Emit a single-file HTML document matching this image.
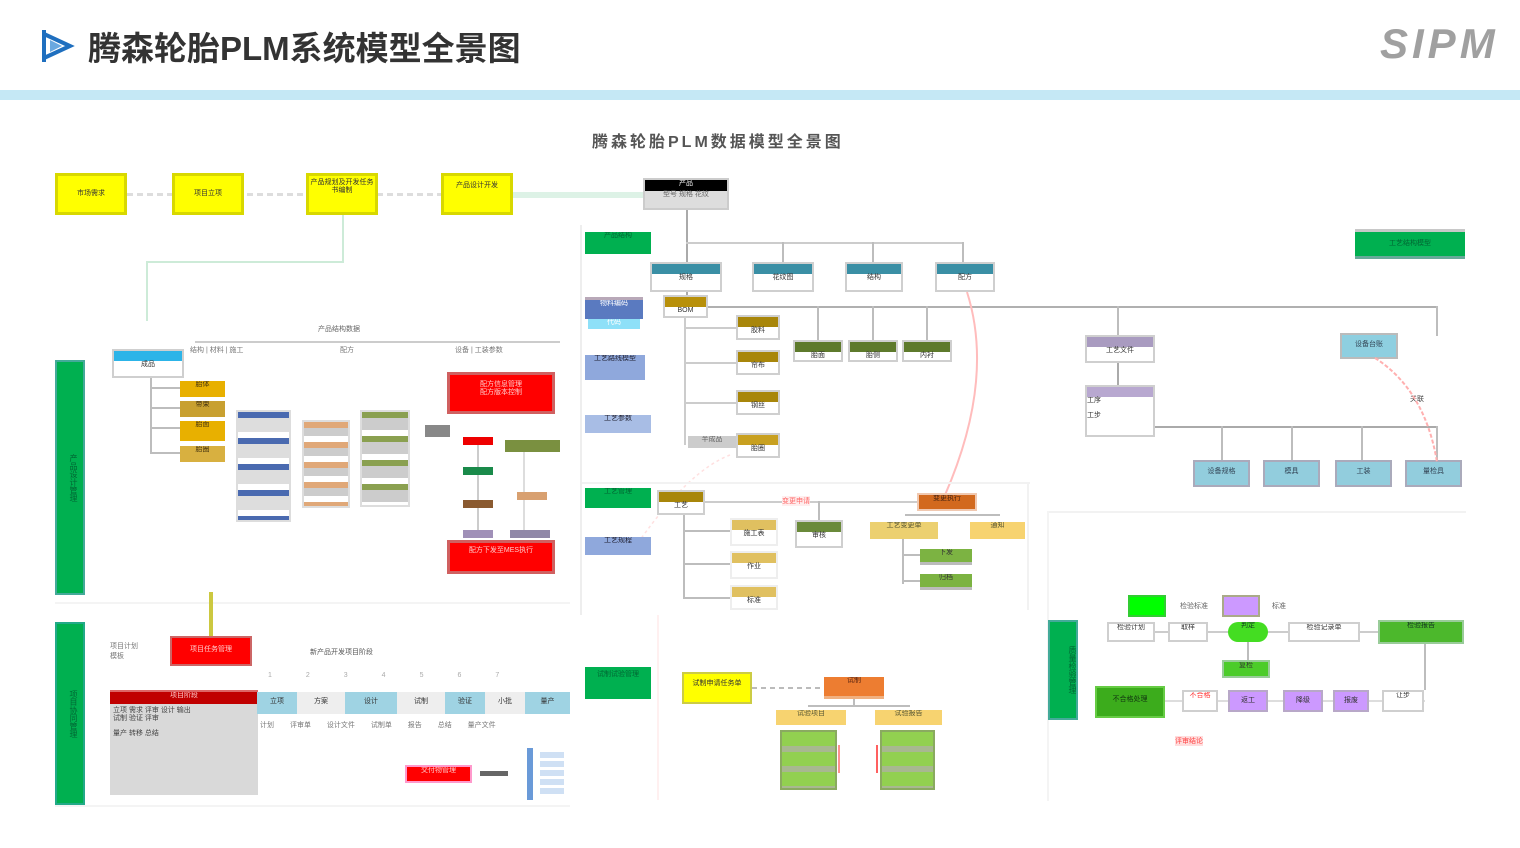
<!DOCTYPE html>
<html><head><meta charset="utf-8"><style>
body{margin:0;width:1520px;height:848px;background:#fff;position:relative;overflow:hidden;font-family:"Liberation Sans","Noto Sans CJK SC",sans-serif}
.b{position:absolute;box-sizing:border-box;font-size:7px;line-height:1.1;text-align:center;overflow:hidden;color:#333}
.h{position:absolute;height:2px;background:#bdbdbd}
.v{position:absolute;width:2px;background:#bdbdbd}
.t{position:absolute;font-size:7px;color:#777;white-space:nowrap}
.w{background:#fff;border:2px solid #cfcfcf}
.hd{display:block;height:10px}
</style></head><body>
<!-- header -->
<svg style="position:absolute;left:40px;top:28px" width="36" height="38"><path d="M4 2 L4 34 M4 6 L30 18 L4 30" stroke="#1f6fbf" stroke-width="4" fill="none"/><path d="M10 12 L22 18 L10 24Z" fill="#6aa8e0"/></svg>
<div style="position:absolute;left:88px;top:22px;font-size:33px;font-weight:bold;color:#333;letter-spacing:0px">腾森轮胎PLM系统模型全景图</div>
<div style="position:absolute;left:1380px;top:20px;font-size:42px;font-weight:bold;font-style:italic;color:#a0a0a0;letter-spacing:4px">SIPM</div>
<div style="position:absolute;left:0;top:90px;width:1520px;height:10px;background:#c5e8f5"></div>
<div style="position:absolute;left:592px;top:128px;font-size:16px;font-weight:bold;color:#555;letter-spacing:3px">腾森轮胎PLM数据模型全景图</div>

<!-- top yellow chain -->
<div class="h" style="left:127px;top:193px;width:516px;height:3px;background:repeating-linear-gradient(90deg,#ddd 0 6px,transparent 6px 10px)"></div>
<div class="h" style="left:513px;top:192px;width:132px;height:6px;background:#ddf2e6"></div>
<div class="b" style="left:55px;top:173px;width:72px;height:42px;background:#ff0;border:3px solid #d8d800;padding-top:14px">市场需求</div>
<div class="b" style="left:172px;top:173px;width:72px;height:42px;background:#ff0;border:3px solid #d8d800;padding-top:14px">项目立项</div>
<div class="b" style="left:306px;top:173px;width:72px;height:42px;background:#ff0;border:3px solid #d8d800;padding-top:3px">产品规划及开发任务书编制</div>
<div class="b" style="left:441px;top:173px;width:72px;height:42px;background:#ff0;border:3px solid #d8d800;padding-top:6px">产品设计开发</div>
<div class="v" style="left:342px;top:215px;height:47px;background:#cdebd8"></div>
<div class="h" style="left:147px;top:261px;width:197px;background:#cdebd8"></div>
<div class="v" style="left:146px;top:261px;height:60px;background:#cdebd8"></div>
<div class="b" style="left:643px;top:178px;width:86px;height:32px;background:#ddd;border:2px solid #ccc"><div style="background:#000;height:11px;color:#fff">产品</div><div style="color:#666">型号 规格 花纹</div></div>

<!-- upper middle -->
<div class="b" style="left:585px;top:232px;width:66px;height:22px;background:#00b050;color:#063">产品结构</div>
<div class="b" style="left:1355px;top:229px;width:110px;height:30px;background:#00b050;color:#063;border-top:3px solid #c8c8c8;border-bottom:3px solid #6a9;padding-top:8px">工艺结构模型</div>
<div class="v" style="left:686px;top:210px;height:90px;background:#aaa"></div>
<div class="h" style="left:686px;top:242px;width:278px;background:#ccc"></div>
<div class="v" style="left:782px;top:242px;height:20px"></div>
<div class="v" style="left:872px;top:242px;height:20px"></div>
<div class="v" style="left:962px;top:242px;height:20px"></div>
<div class="b w" style="left:650px;top:262px;width:72px;height:30px"><span class="hd" style="background:#3a8fa5"></span>规格</div>
<div class="b w" style="left:752px;top:262px;width:62px;height:30px"><span class="hd" style="background:#3a8fa5"></span>花纹图</div>
<div class="b w" style="left:845px;top:262px;width:58px;height:30px"><span class="hd" style="background:#3a8fa5"></span>结构</div>
<div class="b w" style="left:935px;top:262px;width:60px;height:30px"><span class="hd" style="background:#3a8fa5"></span>配方</div>
<div class="b w" style="left:663px;top:295px;width:45px;height:23px"><span class="hd" style="background:#b8900a"></span>BOM</div>
<div class="h" style="left:708px;top:306px;width:730px;background:#b0b0b0"></div>
<div class="v" style="left:817px;top:306px;height:34px"></div>
<div class="v" style="left:872px;top:306px;height:34px"></div>
<div class="v" style="left:926px;top:306px;height:34px"></div>
<div class="v" style="left:1117px;top:306px;height:30px"></div>
<div class="v" style="left:1436px;top:306px;height:30px"></div>
<div class="b w" style="left:793px;top:340px;width:50px;height:22px"><span class="hd" style="background:#5e7a2c"></span>胎面</div>
<div class="b w" style="left:848px;top:340px;width:50px;height:22px"><span class="hd" style="background:#5e7a2c"></span>胎侧</div>
<div class="b w" style="left:902px;top:340px;width:50px;height:22px"><span class="hd" style="background:#5e7a2c"></span>内衬</div>
<div class="v" style="left:684px;top:318px;height:127px;background:#ccc"></div>
<div class="h" style="left:684px;top:327px;width:52px;background:#ccc"></div>
<div class="h" style="left:684px;top:362px;width:52px;background:#ccc"></div>
<div class="h" style="left:684px;top:402px;width:52px;background:#ccc"></div>
<div class="b" style="left:688px;top:436px;width:48px;height:12px;background:#ccc;color:#666">半成品</div>
<div class="b w" style="left:736px;top:315px;width:44px;height:25px"><span class="hd" style="background:#a8860a"></span>胶料</div>
<div class="b w" style="left:736px;top:350px;width:44px;height:25px"><span class="hd" style="background:#a8860a"></span>帘布</div>
<div class="b w" style="left:736px;top:390px;width:44px;height:25px"><span class="hd" style="background:#a8860a"></span>钢丝</div>
<div class="b w" style="left:736px;top:433px;width:44px;height:25px"><span class="hd" style="background:#c8a020"></span>胎圈</div>
<div class="b" style="left:585px;top:297px;width:58px;height:22px;background:#5a7ac0;color:#fff;border-top:3px solid #b8a8b8">物料编码</div>
<div class="b" style="left:588px;top:319px;width:52px;height:10px;background:#8ee0f8;color:#fff">代码</div>
<div class="b" style="left:585px;top:355px;width:60px;height:25px;background:#8fa8dc;color:#223">工艺路线模型</div>
<div class="b" style="left:585px;top:415px;width:66px;height:18px;background:#a8bde5;color:#223">工艺参数</div>
<div class="b w" style="left:1085px;top:335px;width:70px;height:28px"><span class="hd" style="background:#a99bc0"></span>工艺文件</div>
<div class="v" style="left:1117px;top:363px;height:22px;background:#aaa"></div>
<div class="b w" style="left:1085px;top:385px;width:70px;height:52px;text-align:left"><span class="hd" style="background:#b8a8d0"></span>工序<br><br>工步</div>
<div class="h" style="left:1155px;top:426px;width:282px;background:#aaa"></div>
<div class="v" style="left:1221px;top:426px;height:36px"></div>
<div class="v" style="left:1291px;top:426px;height:36px"></div>
<div class="v" style="left:1361px;top:426px;height:36px"></div>
<div class="v" style="left:1436px;top:426px;height:36px"></div>
<div class="b" style="left:1340px;top:333px;width:58px;height:26px;background:#8ecfe0;border:2px solid #bbb;padding-top:6px;color:#345">设备台账</div>
<div class="b" style="left:1193px;top:460px;width:57px;height:27px;background:#92cddd;border:2px solid #aab;padding-top:6px;color:#345">设备规格</div>
<div class="b" style="left:1263px;top:460px;width:57px;height:27px;background:#92cddd;border:2px solid #aab;padding-top:6px;color:#345">模具</div>
<div class="b" style="left:1335px;top:460px;width:57px;height:27px;background:#92cddd;border:2px solid #aab;padding-top:6px;color:#345">工装</div>
<div class="b" style="left:1405px;top:460px;width:57px;height:27px;background:#92cddd;border:2px solid #aab;padding-top:6px;color:#345">量检具</div>
<div class="t" style="left:1410px;top:394px;color:#444">关联</div>
<svg style="position:absolute;left:0;top:0" width="1520" height="848">
<path d="M1375 358 Q1425 390 1437 462" stroke="#ffb0b0" stroke-width="2" fill="none" stroke-dasharray="4 2"/>
<path d="M967 292 Q995 380 945 495" stroke="#ffbcbc" stroke-width="2" fill="none"/>
<path d="M730 455 Q690 470 640 540" stroke="#ffe0e0" stroke-width="1.5" fill="none" stroke-dasharray="3 3"/>
</svg>

<!-- mid section -->
<div class="h" style="left:580px;top:482px;width:450px;background:#f2f2f2"></div>
<div class="v" style="left:1027px;top:482px;height:128px;background:#f2f2f2"></div>
<div class="v" style="left:580px;top:225px;height:390px;background:#eee"></div>
<div class="b" style="left:585px;top:488px;width:66px;height:20px;background:#00b050;color:#063">工艺管理</div>
<div class="b" style="left:585px;top:537px;width:66px;height:18px;background:#8fa8dc;color:#223">工艺规程</div>
<div class="b w" style="left:657px;top:490px;width:48px;height:25px"><span class="hd" style="background:#a8860a"></span>工艺</div>
<div class="h" style="left:705px;top:501px;width:212px;background:#ccc"></div>
<div class="t" style="left:782px;top:496px;color:#f66;background:#fee">变更申请</div>
<div class="v" style="left:683px;top:515px;height:82px"></div>
<div class="h" style="left:683px;top:530px;width:47px"></div>
<div class="h" style="left:683px;top:563px;width:47px"></div>
<div class="h" style="left:683px;top:597px;width:47px"></div>
<div class="b w" style="left:730px;top:518px;width:48px;height:28px;border-color:#eee"><span class="hd" style="background:#e0c060"></span>施工表</div>
<div class="b w" style="left:730px;top:551px;width:48px;height:28px;border-color:#eee"><span class="hd" style="background:#e0c060"></span>作业</div>
<div class="b w" style="left:730px;top:585px;width:48px;height:25px;border-color:#eee"><span class="hd" style="background:#e0c060"></span>标准</div>
<div class="v" style="left:818px;top:501px;height:20px"></div>
<div class="b w" style="left:795px;top:520px;width:48px;height:28px"><span class="hd" style="background:#6a8a3a"></span>审核</div>
<div class="b" style="left:917px;top:493px;width:60px;height:18px;background:#d2691e;border:2px solid #f0c8b0;color:#421">变更执行</div>
<div class="h" style="left:905px;top:514px;width:95px"></div>
<div class="b" style="left:870px;top:522px;width:68px;height:17px;background:#ecd070;color:#553">工艺变更单</div>
<div class="b" style="left:970px;top:522px;width:55px;height:17px;background:#f7d370;color:#553">通知</div>
<div class="v" style="left:902px;top:539px;height:45px"></div>
<div class="h" style="left:902px;top:554px;width:18px"></div>
<div class="h" style="left:902px;top:580px;width:18px"></div>
<div class="b" style="left:920px;top:549px;width:52px;height:16px;background:#7cb342;border-bottom:3px solid #bbb">下发</div>
<div class="b" style="left:920px;top:574px;width:52px;height:16px;background:#7cb342;border-bottom:3px solid #bbb">归档</div>

<!-- bottom middle -->
<div class="v" style="left:657px;top:615px;height:185px;background:#fff0f0"></div>
<div class="b" style="left:585px;top:667px;width:66px;height:32px;background:#00b050;color:#063;padding-top:4px">试制试验管理</div>
<div class="b" style="left:682px;top:672px;width:70px;height:32px;background:#ff0;border:2px solid #cc4;padding-top:6px">试制申请任务单</div>
<div class="h" style="left:752px;top:687px;width:72px;background:repeating-linear-gradient(90deg,#bbb 0 5px,transparent 5px 9px)"></div>
<div class="b" style="left:824px;top:677px;width:60px;height:22px;background:#ed7d31;border-bottom:3px solid #f0b080;color:#521">试制</div>
<div class="v" style="left:853px;top:699px;height:7px"></div>
<div class="h" style="left:808px;top:705px;width:102px"></div>
<div class="b" style="left:776px;top:710px;width:70px;height:15px;background:#f7d370;color:#553">试验项目</div>
<div class="b" style="left:875px;top:710px;width:67px;height:15px;background:#f7d370;color:#553">试验报告</div>
<div class="b" style="left:780px;top:730px;width:57px;height:60px;background:repeating-linear-gradient(180deg,#92d050 0 14px,#a8b890 14px 20px);border:2px solid #8aaa60"></div>
<div class="b" style="left:880px;top:730px;width:55px;height:60px;background:repeating-linear-gradient(180deg,#92d050 0 14px,#a8b890 14px 20px);border:2px solid #8aaa60"></div>
<div class="v" style="left:838px;top:745px;height:28px;background:#ff9090"></div>
<div class="v" style="left:876px;top:745px;height:28px;background:#ff6060"></div>

<!-- right bottom -->
<div class="h" style="left:1048px;top:511px;width:418px;background:#f2f2f2"></div>
<div class="v" style="left:1047px;top:511px;height:290px;background:#f4f4f4"></div>
<div class="b" style="left:1048px;top:620px;width:30px;height:100px;background:#00b050;border:2px solid #4a9;writing-mode:vertical-rl;color:#063;font-size:8px">质量检验管理</div>
<div class="b" style="left:1128px;top:595px;width:38px;height:22px;background:#00ff00;border:2px solid #3c3"></div>
<div class="t" style="left:1180px;top:601px;color:#666">检验标准</div>
<div class="b" style="left:1222px;top:595px;width:38px;height:22px;background:#cc99ff;border:2px solid #aa8"></div>
<div class="t" style="left:1272px;top:601px;color:#666">标准</div>
<div class="h" style="left:1155px;top:631px;width:225px;background:#ccc"></div>
<div class="b w" style="left:1107px;top:622px;width:48px;height:20px">检验计划</div>
<div class="b w" style="left:1168px;top:622px;width:40px;height:20px">取样</div>
<div class="b" style="left:1228px;top:622px;width:40px;height:20px;background:#44dd22;border-radius:10px;color:#132">判定</div>
<div class="b w" style="left:1288px;top:622px;width:72px;height:20px">检验记录单</div>
<div class="b" style="left:1378px;top:620px;width:86px;height:24px;background:#4cb82c;border:2px solid #9c9;color:#132">检验报告</div>
<div class="v" style="left:1247px;top:642px;height:18px"></div>
<div class="b" style="left:1222px;top:660px;width:48px;height:18px;background:#4ccc2a;border:2px solid #9c9">复检</div>
<div class="v" style="left:1424px;top:644px;height:46px"></div>
<div class="h" style="left:1165px;top:700px;width:260px;background:#ddd"></div>
<div class="b" style="left:1095px;top:686px;width:70px;height:32px;background:#3cac1c;border:2px solid #6c4;padding-top:8px;color:#131">不合格处理</div>
<div class="b w" style="left:1182px;top:690px;width:36px;height:22px;color:#f33">不合格</div>
<div class="b" style="left:1228px;top:690px;width:40px;height:22px;background:#cc99ff;border:2px solid #b8a8c8;padding-top:5px">返工</div>
<div class="b" style="left:1283px;top:690px;width:40px;height:22px;background:#cc99ff;border:2px solid #b8a8c8;padding-top:5px">降级</div>
<div class="b" style="left:1333px;top:690px;width:36px;height:22px;background:#cc99ff;border:2px solid #b8a8c8;padding-top:5px">报废</div>
<div class="b w" style="left:1382px;top:690px;width:42px;height:22px">让步</div>
<div class="t" style="left:1175px;top:736px;color:#f44;background:#fdd">评审结论</div>

<!-- left upper -->
<div class="t" style="left:318px;top:324px;color:#666">产品结构数据</div>
<div class="h" style="left:195px;top:341px;width:365px;background:#ccc"></div>
<div class="t" style="left:190px;top:345px">结构 | 材料 | 施工</div>
<div class="t" style="left:340px;top:345px">配方</div>
<div class="t" style="left:455px;top:345px">设备 | 工装参数</div>
<div class="b w" style="left:112px;top:349px;width:72px;height:29px"><span class="hd" style="background:#2cb4e8"></span>成品</div>
<div class="v" style="left:150px;top:378px;height:76px"></div>
<div class="h" style="left:150px;top:387px;width:30px"></div>
<div class="h" style="left:150px;top:407px;width:30px"></div>
<div class="h" style="left:150px;top:427px;width:30px"></div>
<div class="h" style="left:150px;top:452px;width:30px"></div>
<div class="b" style="left:180px;top:381px;width:45px;height:16px;background:#e8b000;color:#431">胎体</div>
<div class="b" style="left:180px;top:401px;width:45px;height:16px;background:#c8a030;color:#431">带束</div>
<div class="b" style="left:180px;top:421px;width:45px;height:20px;background:#e8b000;color:#431">胎面</div>
<div class="b" style="left:180px;top:446px;width:45px;height:16px;background:#d8b040;color:#431">胎圈</div>
<div class="b" style="left:236px;top:410px;width:55px;height:112px;background:repeating-linear-gradient(180deg,#4a6ab0 0 6px,#ddd 6px 20px,#fff 20px 26px);border:2px solid #ddd"></div>
<div class="b" style="left:302px;top:420px;width:48px;height:88px;background:repeating-linear-gradient(180deg,#e0a878 0 6px,#ccc 6px 14px,#fff 14px 20px);border:2px solid #ddd"></div>
<div class="b" style="left:360px;top:410px;width:50px;height:97px;background:repeating-linear-gradient(180deg,#8aa050 0 6px,#ccc 6px 18px,#fff 18px 24px);border:2px solid #ddd"></div>
<div class="b" style="left:425px;top:425px;width:25px;height:12px;background:#888"></div>
<div class="b" style="left:447px;top:372px;width:108px;height:42px;background:#ff0000;border:3px solid #d06060;color:#fcc;padding-top:6px">配方信息管理<br>配方版本控制</div>
<div class="b" style="left:463px;top:437px;width:30px;height:8px;background:#e00"></div>
<div class="v" style="left:477px;top:445px;height:88px;background:#ccc"></div>
<div class="b" style="left:463px;top:467px;width:30px;height:8px;background:#1a8a4a"></div>
<div class="b" style="left:463px;top:500px;width:30px;height:8px;background:#8a5a30"></div>
<div class="b" style="left:463px;top:530px;width:30px;height:8px;background:#a090b8"></div>
<div class="b" style="left:505px;top:440px;width:55px;height:12px;background:#7a9040"></div>
<div class="v" style="left:523px;top:452px;height:78px;background:#ddd"></div>
<div class="b" style="left:517px;top:492px;width:30px;height:8px;background:#d8a070"></div>
<div class="b" style="left:510px;top:530px;width:40px;height:8px;background:#9088a8"></div>
<div class="b" style="left:447px;top:540px;width:108px;height:34px;background:#ff0000;border:3px solid #d06060;color:#fcc;padding-top:4px">配方下发至MES执行</div>
<div class="b" style="left:55px;top:360px;width:30px;height:235px;background:#00b050;border:2px solid #4a9;writing-mode:vertical-rl;color:#063;font-size:8px;padding-right:6px">产品设计管理</div>
<div class="h" style="left:55px;top:602px;width:515px;background:#f4f4f4"></div>

<!-- left lower -->
<div class="b" style="left:55px;top:622px;width:30px;height:183px;background:#00b050;border:2px solid #2a8;writing-mode:vertical-rl;color:#063;font-size:8px;padding-right:6px">项目协同管理</div>
<div class="v" style="left:209px;top:592px;width:4px;height:45px;background:#ccc840"></div>
<div class="t" style="left:110px;top:641px;color:#777">项目计划<br>模板</div>
<div class="b" style="left:170px;top:636px;width:82px;height:30px;background:#ff0000;border:2px solid #c66;color:#fcc;padding-top:8px">项目任务管理</div>
<div class="t" style="left:310px;top:647px;color:#555">新产品开发项目阶段</div>
<div class="t" style="left:268px;top:672px;letter-spacing:34px;color:#aaa">1234567</div>
<div class="b" style="left:110px;top:690px;width:148px;height:14px;background:#c00000;border-top:2px solid #d66;color:#fcc">项目阶段</div>
<div class="b" style="left:110px;top:704px;width:148px;height:91px;background:#d9d9d9;text-align:left;color:#444;padding:3px">立项 需求 评审 设计 输出<br>试制 验证 评审<br><br>量产 转移 总结</div>
<div class="b" style="left:257px;top:692px;width:40px;height:22px;background:#9fd3e3;padding-top:6px">立项</div>
<div class="b" style="left:297px;top:692px;width:48px;height:22px;background:#eee;padding-top:6px">方案</div>
<div class="b" style="left:345px;top:692px;width:52px;height:22px;background:#9fd3e3;padding-top:6px">设计</div>
<div class="b" style="left:397px;top:692px;width:48px;height:22px;background:#eee;padding-top:6px">试制</div>
<div class="b" style="left:445px;top:692px;width:40px;height:22px;background:#9fd3e3;padding-top:6px">验证</div>
<div class="b" style="left:485px;top:692px;width:40px;height:22px;background:#eee;padding-top:6px">小批</div>
<div class="b" style="left:525px;top:692px;width:45px;height:22px;background:#9fd3e3;padding-top:6px">量产</div>
<div class="t" style="left:260px;top:720px;word-spacing:14px">计划 评审单 设计文件 试制单 报告 总结 量产文件</div>
<div class="b" style="left:405px;top:765px;width:67px;height:18px;background:#ff0000;border:2px solid #f9c;color:#fcc">交付物管理</div>
<div class="h" style="left:480px;top:771px;width:28px;height:5px;background:#666"></div>
<div class="b" style="left:527px;top:748px;width:6px;height:52px;background:#6a9ad8"></div>
<div class="b" style="left:540px;top:752px;width:24px;height:42px;background:repeating-linear-gradient(180deg,#cfe0f4 0 6px,#fff 6px 9px)"></div>
<div class="h" style="left:55px;top:805px;width:515px;background:#f4f4f4"></div>
</body></html>
